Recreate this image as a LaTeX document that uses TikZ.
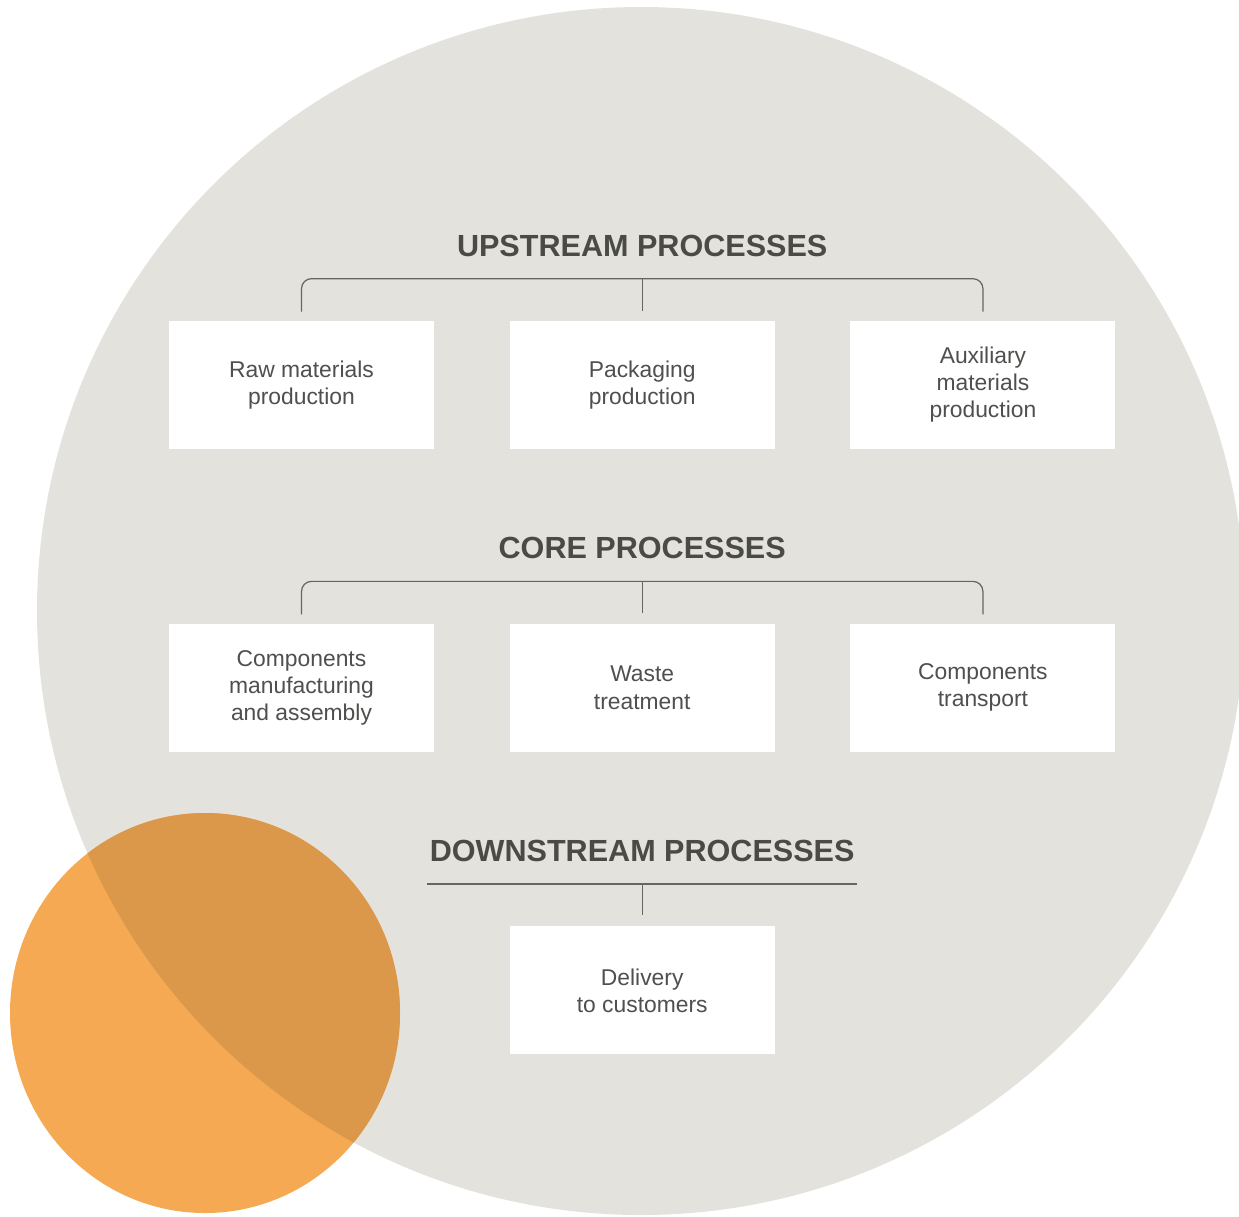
\documentclass[tikz,border=0pt]{standalone}
\usepackage{fontspec}
\setmainfont{Liberation Sans}
\usepackage{tikz}
\usetikzlibrary{positioning,calc}

\definecolor{discgrey}{HTML}{E3E2DD}
\definecolor{discorange}{HTML}{F4A952}
\definecolor{discmix}{HTML}{DB984A}
\definecolor{inktext}{HTML}{4F4F4D}
\definecolor{inkhead}{HTML}{4A4A47}
\definecolor{inkline}{HTML}{66665F}

\begin{document}
\begin{tikzpicture}[
  box/.style={rectangle, fill=white, align=center, minimum width=5.3cm, minimum height=2.56cm, text=inktext, font=\fontsize{13}{15.4}\selectfont},
  head/.style={font=\fontsize{17.4}{20}\selectfont\bfseries, text=inkhead},
  bracket/.style={draw=inkline, line width=0.7pt, rounded corners=0.2cm}
]
\useasboundingbox (0,0) rectangle (24.78,-24.32);

% Background disc
\fill[discgrey] (12.82,-12.22) circle (12.08);

% Upstream row
\node[box] (raw) at (6.03,-7.70) {Raw materials\\production};
\node[box, right=1.5cm of raw] (pack) {Packaging\\production};
\node[box, right=1.5cm of pack] (aux) {Auxiliary\\materials\\production};

% Core row
\node[box, below=3.48cm of raw] (comp) {Components\\manufacturing\\and assembly};
\node[box, right=1.5cm of comp] (waste) {Waste\\treatment};
\node[box, right=1.5cm of waste] (trans) {Components\\transport};

% Downstream row
\node[box, below=3.48cm of waste] (deliv) {Delivery\\to customers};

% Headings
\node[head] (upstream) at ([yshift=1.5cm]pack.north) {UPSTREAM PROCESSES};
\node[head] (core) at ([yshift=1.5cm]waste.north) {CORE PROCESSES};
\node[head] (downstream) at ([yshift=1.5cm]deliv.north) {DOWNSTREAM PROCESSES};

% Brackets
\draw[bracket] ([yshift=0.18cm]raw.north) -- ++(0,0.66) -| ([yshift=0.18cm]aux.north);
\draw[bracket] ([yshift=0.2cm]pack.north) -- ++(0,0.64);
\draw[bracket] ([yshift=0.18cm]comp.north) -- ++(0,0.66) -| ([yshift=0.18cm]trans.north);
\draw[bracket] ([yshift=0.2cm]waste.north) -- ++(0,0.64);
\coordinate (dl) at ($(deliv.north)+(-4.3,0.84)$);
\coordinate (dr) at ($(deliv.north)+(4.3,0.84)$);
\draw[bracket] (dl) -- (dr);
\draw[bracket] ([yshift=0.22cm]deliv.north) -- ++(0,0.62);

% Orange disc and its overlap with the grey one
\fill[discorange] (4.10,-20.26) ellipse (3.9 and 4.0);
\begin{scope}
  \clip (4.10,-20.26) ellipse (3.9 and 4.0);
  \fill[discmix] (12.82,-12.22) circle (12.08);
\end{scope}
\end{tikzpicture}
\end{document}
